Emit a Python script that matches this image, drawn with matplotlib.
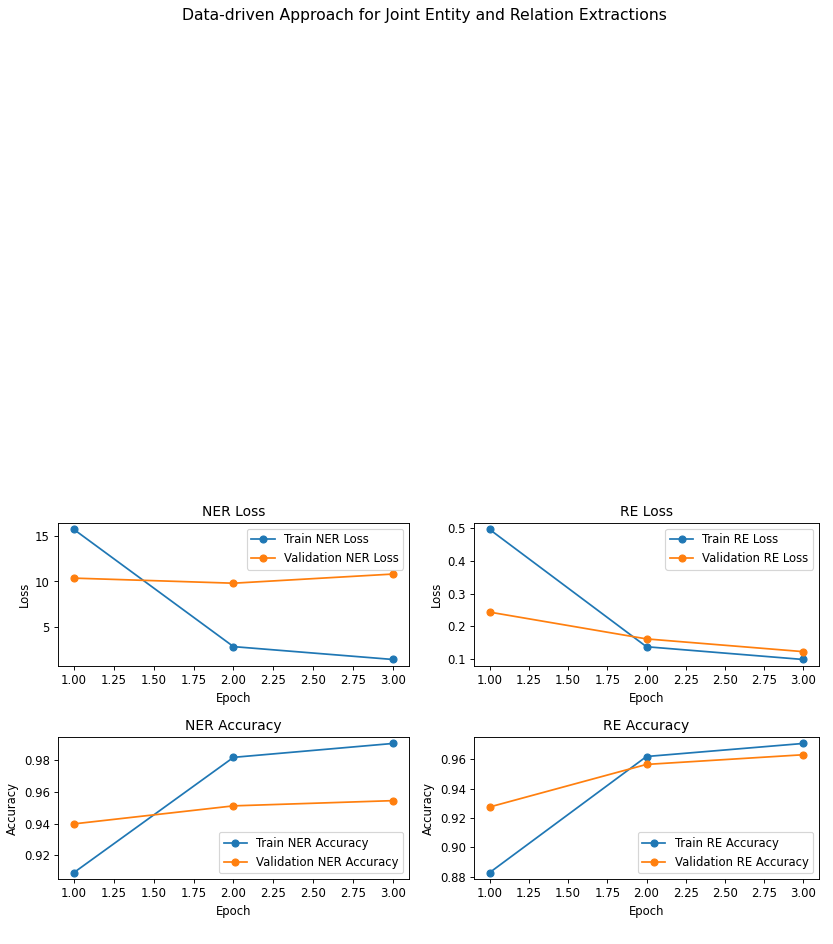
import matplotlib
matplotlib.use("Agg")
import matplotlib.pyplot as plt
from matplotlib.ticker import MultipleLocator

epochs = [1, 2, 3]

train_ner_loss = [15.74, 2.81, 1.39]
val_ner_loss = [10.37, 9.81, 10.82]
train_re_loss = [0.496, 0.137, 0.098]
val_re_loss = [0.243, 0.161, 0.122]

train_ner_acc = [0.909, 0.9819, 0.9907]
val_ner_acc = [0.9398, 0.9512, 0.9545]
train_re_acc = [0.8829, 0.962, 0.9709]
val_re_acc = [0.9276, 0.9566, 0.9632]

page_title = "Data-driven Approach for Joint Entity and Relation Extractions"

W, H = 833, 944
DPI = 83.3
fig = plt.figure(figsize=(10, 11.333), dpi=DPI)

fig.text(0.51, 1 - 15 / H, page_title, ha="center", va="center", fontsize=13.5,
         family="DejaVu Sans")


def add_panel(rect, train, val, title, ylabel, train_lbl, val_lbl, legend_loc):
    ax = fig.add_axes(rect)
    ax.plot(epochs, train, marker="o", label=train_lbl)
    ax.plot(epochs, val, marker="o", label=val_lbl)
    ax.set_title(title)
    ax.set_xlabel("Epoch")
    ax.set_ylabel(ylabel)
    ax.legend(loc=legend_loc)
    return ax


def rect(x0, x1, y0, y1):
    return [x0 / W, 1 - y1 / H, (x1 - x0) / W, (y1 - y0) / H]


ax = add_panel(rect(58, 409, 523, 666), train_ner_loss, val_ner_loss, "NER Loss", "Loss",
               "Train NER Loss", "Validation NER Loss", "upper right")
ax.yaxis.set_major_locator(MultipleLocator(5))
add_panel(rect(474, 819, 523, 666), train_re_loss, val_re_loss, "RE Loss", "Loss",
          "Train RE Loss", "Validation RE Loss", "upper right")
add_panel(rect(58, 409, 737, 879), train_ner_acc, val_ner_acc, "NER Accuracy", "Accuracy",
          "Train NER Accuracy", "Validation NER Accuracy", "lower right")
add_panel(rect(474, 819, 737, 879), train_re_acc, val_re_acc, "RE Accuracy", "Accuracy",
          "Train RE Accuracy", "Validation RE Accuracy", "lower right")

fig.savefig("out.png", dpi=DPI)
